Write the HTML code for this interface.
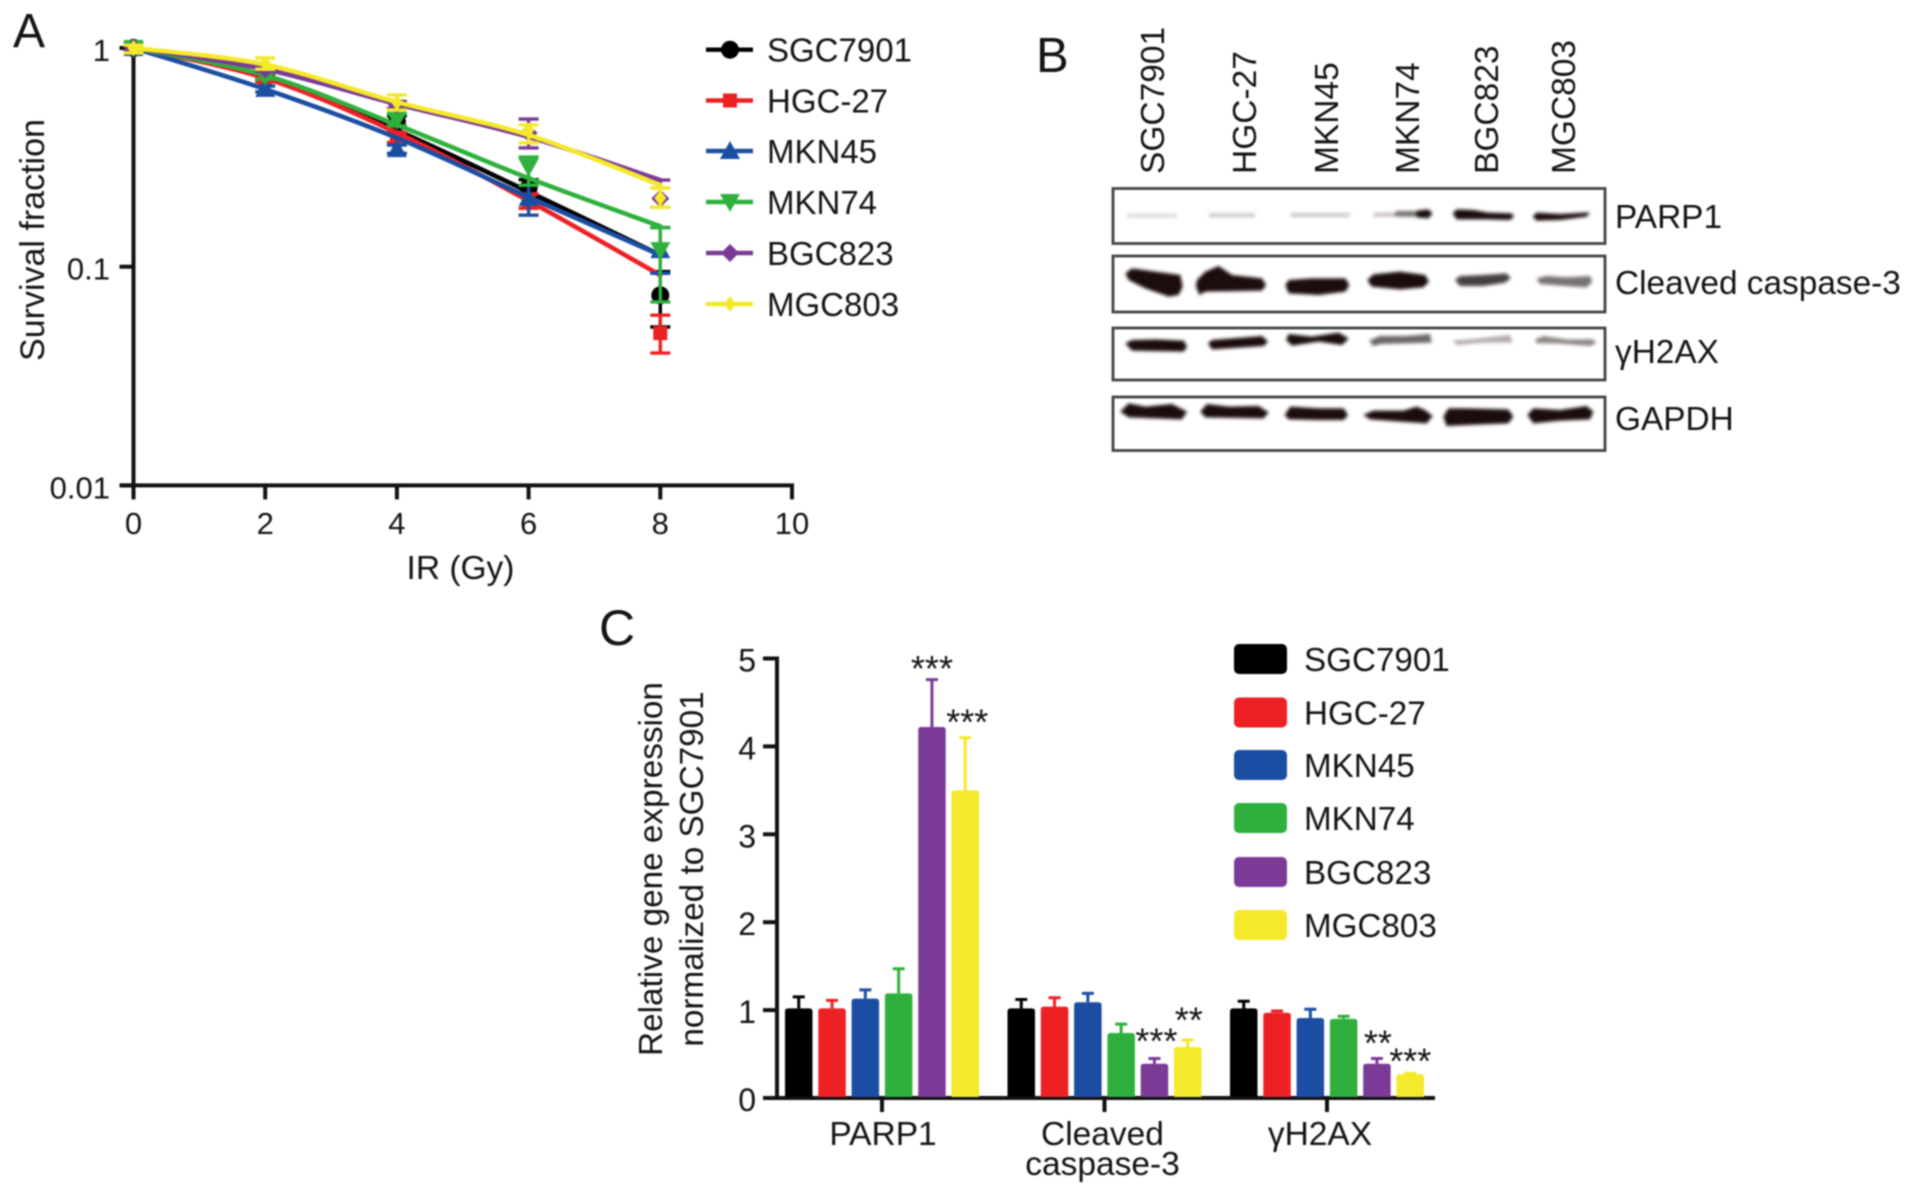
<!DOCTYPE html>
<html lang="en">
<head>
<meta charset="utf-8">
<title>Survival fraction and protein expression in gastric cancer cell lines</title>
<style>
  html, body { margin: 0; padding: 0; background: #fff; }
  body { width: 1913px; height: 1195px; overflow: hidden; }
  #figure { display: block; filter: blur(0.75px); }
  text { font-family: "Liberation Sans", "DejaVu Sans", sans-serif; fill: #151314; }
</style>
</head>
<body>
<svg id="figure" xmlns="http://www.w3.org/2000/svg" width="1913" height="1195" viewBox="0 0 1913 1195">
  <defs>
    <filter id="bandBlur" x="-10%" y="-10%" width="120%" height="120%"><feGaussianBlur stdDeviation="1.5"/></filter>
  </defs>
  <rect width="1913" height="1195" fill="#fff"/>

  <text x="13" y="47" font-size="48">A</text>
  <text x="1036" y="72" font-size="49">B</text>
  <text x="599" y="645" font-size="50">C</text>

  <g id="panelA"></g>

  <g id="panelB">
    <g font-size="33.5">
      <text transform="translate(1164,174) rotate(-90)">SGC7901</text>
      <text transform="translate(1256,174) rotate(-90)">HGC-27</text>
      <text transform="translate(1338,174) rotate(-90)">MKN45</text>
      <text transform="translate(1419,174) rotate(-90)">MKN74</text>
      <text transform="translate(1498,174) rotate(-90)">BGC823</text>
      <text transform="translate(1575,174) rotate(-90)">MGC803</text>
    </g>
    <g fill="#fff" stroke="#444" stroke-width="2.8">
      <rect x="1113" y="188.5" width="492" height="55"/>
      <rect x="1113" y="256" width="492" height="56"/>
      <rect x="1113" y="328" width="492" height="52"/>
      <rect x="1113" y="397" width="492" height="53.5"/>
    </g>
    <g filter="url(#bandBlur)" fill="#1a0b0b">
      <g transform="translate(1112,180) scale(0.33333)">
        <g>
          <rect x="45" y="101" width="150" height="12" rx="6" opacity=".14"/>
          <rect x="290" y="100" width="140" height="12" rx="6" opacity=".22"/>
          <rect x="535" y="99" width="180" height="12" rx="6" opacity=".22"/>
        </g>
        <g>
          <polygon points="40,280 60,265 130,275 205,285 212,320 200,345 170,350 100,325 50,300"/>
          <polygon points="255,300 280,275 320,258 360,285 450,295 462,315 450,332 280,335 262,345 252,320"/>
          <polygon points="520,315 530,300 600,295 700,295 712,315 700,335 620,345 530,340"/>
        </g>
        <g>
          <polygon points="40,490 60,480 130,478 215,482 225,500 215,515 60,512"/>
          <polygon points="288,490 300,480 450,468 468,485 455,498 300,508"/>
          <polygon points="522,480 530,462 600,470 680,458 710,475 690,495 620,485 540,497"/>
        </g>
        <g>
          <polygon points="25,695 50,670 100,680 180,672 225,695 210,718 130,715 50,712"/>
          <polygon points="265,695 285,672 350,680 440,678 470,697 455,715 280,712"/>
          <polygon points="518,705 535,680 620,685 695,685 708,705 695,720 620,720 530,718"/>
        </g>
      </g>
      <g transform="translate(1360,180) scale(0.33333)">
        <g>
          <rect x="40" y="98" width="70" height="12" rx="6" opacity=".25"/>
          <rect x="105" y="93" width="70" height="17" rx="8" opacity=".6"/>
          <polygon points="170,92 205,88 218,100 205,115 170,112"/>
          <polygon points="278,100 290,88 340,90 385,98 455,100 462,110 450,120 380,118 290,118"/>
          <polygon points="518,110 530,98 600,102 690,97 680,110 600,120 530,122"/>
        </g>
        <g>
          <polygon points="22,300 40,283 120,275 195,285 207,305 190,322 120,328 35,320"/>
          <polygon points="285,300 300,288 370,285 440,280 452,295 435,308 370,318 300,318" opacity=".8"/>
          <polygon points="530,295 560,288 620,292 690,288 697,305 680,322 620,318 540,312" opacity=".6"/>
        </g>
        <g>
          <polygon points="28,482 60,468 140,468 210,462 215,488 130,490 60,492 40,498" opacity=".65"/>
          <polygon points="278,482 330,478 450,465 458,488 370,488 290,495" opacity=".33"/>
          <polygon points="525,478 550,468 620,478 700,478 708,490 690,498 590,490 530,490" opacity=".48"/>
        </g>
        <g>
          <polygon points="10,705 40,692 130,692 170,680 195,690 218,708 200,730 120,725 30,718"/>
          <polygon points="250,710 265,685 320,685 445,688 460,710 445,730 320,735 260,738"/>
          <polygon points="502,705 520,685 600,690 680,678 700,695 690,718 600,722 520,730"/>
        </g>
      </g>
    </g>
    <g font-size="33.4">
      <text x="1615" y="228">PARP1</text>
      <text x="1615" y="294">Cleaved caspase-3</text>
      <text x="1615" y="363">γH2AX</text>
      <text x="1615" y="430">GAPDH</text>
    </g>
  </g>

  <g id="panelC"></g>
</svg>

<script>
const NS = 'http://www.w3.org/2000/svg';

/* Shared */
const cellLines = ['SGC7901', 'HGC-27', 'MKN45', 'MKN74', 'BGC823', 'MGC803'];
const lineColors = ['#000000', '#ed2024', '#1b4ea2', '#2fb03d', '#7b3a96', '#f4e92a'];

/* Panel A: survival data */
const doses = [0, 2, 4, 6, 8];
const doseTicks = [0, 2, 4, 6, 8, 10];
const survivalTicks = [1, 0.1, 0.01];
const survivalTickLabels = ['1', '0.1', '0.01'];

const sgc7901Fit = [1, 0.743, 0.420, 0.220, 0.113];
const hgc27Fit   = [1, 0.728, 0.410, 0.200, 0.0914];
const mkn45Fit   = [1, 0.648, 0.388, 0.208, 0.113];
const mkn74Fit   = [1, 0.751, 0.445, 0.254, 0.153];
const bgc823Fit  = [1, 0.800, 0.554, 0.392, 0.249];
const mgc803Fit  = [1, 0.840, 0.566, 0.400, 0.236];

const sgc7901Mean = [1, 0.74, 0.46, 0.229, 0.074];
const hgc27Mean   = [1, 0.72, 0.39, 0.20, 0.0497];
const mkn45Mean   = [1, 0.65, 0.345, 0.206, 0.119];
const mkn74Mean   = [1, 0.745, 0.469, 0.286, 0.119];
const bgc823Mean  = [1, 0.80, 0.55, 0.409, 0.205];
const mgc803Mean  = [1, 0.85, 0.565, 0.422, 0.206];

const sgc7901Upper = [1.03, 0.76, 0.49, 0.25, 0.095];
const hgc27Upper   = [1.03, 0.74, 0.41, 0.215, 0.060];
const mkn45Upper   = [1.03, 0.67, 0.36, 0.236, 0.151];
const mkn74Upper   = [1.05, 0.77, 0.50, 0.317, 0.151];
const bgc823Upper  = [1.03, 0.82, 0.57, 0.473, 0.249];
const mgc803Upper  = [1.03, 0.90, 0.61, 0.445, 0.229];

const sgc7901Lower = [0.97, 0.72, 0.43, 0.21, 0.053];
const hgc27Lower   = [0.97, 0.70, 0.37, 0.185, 0.0403];
const mkn45Lower   = [0.97, 0.63, 0.33, 0.172, 0.0933];
const mkn74Lower   = [0.95, 0.72, 0.44, 0.236, 0.069];
const bgc823Lower  = [0.97, 0.78, 0.53, 0.349, 0.187];
const mgc803Lower  = [0.95, 0.80, 0.52, 0.368, 0.187];

const fitSeries = [sgc7901Fit, hgc27Fit, mkn45Fit, mkn74Fit, bgc823Fit, mgc803Fit];
const meanSeries = [sgc7901Mean, hgc27Mean, mkn45Mean, mkn74Mean, bgc823Mean, mgc803Mean];
const upperSeries = [sgc7901Upper, hgc27Upper, mkn45Upper, mkn74Upper, bgc823Upper, mgc803Upper];
const lowerSeries = [sgc7901Lower, hgc27Lower, mkn45Lower, mkn74Lower, bgc823Lower, mgc803Lower];

/* Panel C: expression data */
const targets = ['PARP1', 'Cleaved caspase-3', 'γH2AX'];
const expressionTicks = [0, 1, 2, 3, 4, 5];
const sgc7901Expression = [1.02, 1.02, 1.02];
const hgc27Expression   = [1.02, 1.04, 0.97];
const mkn45Expression   = [1.13, 1.09, 0.91];
const mkn74Expression   = [1.19, 0.74, 0.90];
const bgc823Expression  = [4.22, 0.39, 0.39];
const mgc803Expression  = [3.5, 0.58, 0.27];
const sgc7901ExpressionErr = [0.13, 0.10, 0.08];
const hgc27ExpressionErr   = [0.09, 0.10, 0.02];
const mkn45ExpressionErr   = [0.10, 0.10, 0.10];
const mkn74ExpressionErr   = [0.28, 0.10, 0.03];
const bgc823ExpressionErr  = [0.54, 0.06, 0.06];
const mgc803ExpressionErr  = [0.6, 0.08, 0.01];
const significance = [
  ['', '', '', '', '***', '***'],
  ['', '', '', '', '***', '**'],
  ['', '', '', '', '**', '***']
];
const expressionSeries = [sgc7901Expression, hgc27Expression, mkn45Expression, mkn74Expression, bgc823Expression, mgc803Expression];
const expressionErrSeries = [sgc7901ExpressionErr, hgc27ExpressionErr, mkn45ExpressionErr, mkn74ExpressionErr, bgc823ExpressionErr, mgc803ExpressionErr];

/* Axis functions */
const doseX = d => 133.5 + d * 65.85;
const survivalY = v => 48 - Math.log10(v) * 218.7;
const expressionY = v => 1098 - v * 87.9;

function make(tag, attrs, parent, content) {
  const el = document.createElementNS(NS, tag);
  for (const k in attrs) el.setAttribute(k, attrs[k]);
  if (content !== undefined) el.textContent = content;
  parent.appendChild(el);
  return el;
}

function smoothPath(points) {
  let d = 'M' + points[0][0] + ' ' + points[0][1];
  for (let i = 0; i < points.length - 1; i++) {
    const p0 = points[Math.max(i - 1, 0)], p1 = points[i], p2 = points[i + 1], p3 = points[Math.min(i + 2, points.length - 1)];
    d += ' C' + (p1[0] + (p2[0] - p0[0]) / 6) + ' ' + (p1[1] + (p2[1] - p0[1]) / 6) + ' ' +
         (p2[0] - (p3[0] - p1[0]) / 6) + ' ' + (p2[1] - (p3[1] - p1[1]) / 6) + ' ' + p2[0] + ' ' + p2[1];
  }
  return d;
}

function markerShape(parent, kind, x, y, color) {
  if (kind === 0) return make('circle', { cx: x, cy: y, r: 9, fill: color }, parent);
  if (kind === 1) return make('rect', { x: x - 7, y: y - 7, width: 14, height: 14, fill: color }, parent);
  const pts = {
    2: [[0, -10], [10, 8], [-10, 8]],
    3: [[-10, -8], [10, -8], [0, 10]],
    4: [[0, -9], [9, 0], [0, 9], [-9, 0]],
    5: [[0, -8], [6, 0], [0, 8], [-6, 0]]
  }[kind];
  return make('polygon', { points: pts.map(p => (x + p[0]) + ',' + (y + p[1])).join(' '), fill: color }, parent);
}

/* ---------- Panel A ---------- */
(function () {
  const root = document.getElementById('panelA');
  const ink = '#111';

  const yAxis = make('line', { x1: doseX(0), x2: doseX(0), y1: survivalY(1), y2: survivalY(0.01) + 2, stroke: ink, 'stroke-width': 4 }, root);
  
  
  const xAxis = make('line', { x1: doseX(0) - 14, x2: doseX(10) + 2, y1: survivalY(0.01), y2: survivalY(0.01), stroke: ink, 'stroke-width': 4 }, root);
  
  

  survivalTicks.forEach((v, i) => {
    const tick = make('line', { x1: doseX(0) - 14, x2: doseX(0), y1: survivalY(v), y2: survivalY(v), stroke: ink, 'stroke-width': 4 }, root);
    
    
    const label = make('text', { x: 110, y: survivalY(v) + 13, 'font-size': 31, 'text-anchor': 'end' }, root, survivalTickLabels[i]);
    
    
  });
  doseTicks.forEach(d => {
    const tick = make('line', { x1: doseX(d), x2: doseX(d), y1: survivalY(0.01), y2: survivalY(0.01) + 14, stroke: ink, 'stroke-width': 4 }, root);
    
    
    const label = make('text', { x: doseX(d), y: 534, 'font-size': 31, 'text-anchor': 'middle' }, root, String(d));
    
    
  });

  const xTitle = make('text', { x: 460.5, y: 579, 'font-size': 33.5, 'text-anchor': 'middle' }, root, 'IR (Gy)');
  
  
  const yTitle = make('text', { transform: 'translate(44,240) rotate(-90)', 'font-size': 34, 'text-anchor': 'middle' }, root, 'Survival fraction');
  
  

  fitSeries.forEach((fit, s) => {
    const g = make('g', {}, root);
    
    
    const color = lineColors[s];
    doses.forEach((d, i) => {
      const x = doseX(d);
      const err = make('path', {
        d: 'M' + x + ' ' + survivalY(upperSeries[s][i]) + ' V' + survivalY(lowerSeries[s][i]) +
           ' M' + (x - 10) + ' ' + survivalY(upperSeries[s][i]) + ' h20' +
           ' M' + (x - 10) + ' ' + survivalY(lowerSeries[s][i]) + ' h20',
        stroke: color, 'stroke-width': 3.4, fill: 'none'
      }, g);
      
      
      const mark = markerShape(g, s, x, survivalY(meanSeries[s][i]), color);
      
      
    });
    const curve = make('path', {
      d: smoothPath(doses.map((d, i) => [doseX(d), survivalY(fit[i])])),
      stroke: color, 'stroke-width': 4.6, fill: 'none', 'stroke-linecap': 'round'
    }, g);
    
    
  });

  const legendRows = [49.7, 100.5, 151, 202, 253, 304];
  cellLines.forEach((name, s) => {
    const g = make('g', {}, root);
    
    
    const y = legendRows[s];
    make('line', { x1: 706, x2: 753, y1: y, y2: y, stroke: lineColors[s], 'stroke-width': 4.4 }, g);
    markerShape(g, s, 730, y, lineColors[s]);
    make('text', { x: 767, y: y + 12, 'font-size': 33 }, g, name);
  });
})();

/* ---------- Panel C ---------- */
(function () {
  const root = document.getElementById('panelC');
  const ink = '#111';
  const groupStart = i => 785 + i * 222.5;
  const barPitch = 33.3;
  const barWidth = 27.5;
  const axisX = 777;
  const labelShift = [2, -1, -6];
  const starLift = [[0, 0, 0, 0, 1.5, -3], [0, 0, 0, 0, -5, -7.5], [0, 0, 0, 0, -3, 0]];
  const starShift = [[0, 0, 0, 0, 0, 2], [0, 0, 0, 0, 2, 1], [0, 0, 0, 0, 1, 0]];

  const yAxis = make('line', { x1: axisX, x2: axisX, y1: expressionY(5) - 2, y2: expressionY(0), stroke: ink, 'stroke-width': 4 }, root);
  
  
  const xAxis = make('line', { x1: axisX - 14, x2: 1435, y1: expressionY(0), y2: expressionY(0), stroke: ink, 'stroke-width': 4 }, root);
  
  

  expressionTicks.forEach(v => {
    const tick = make('line', { x1: axisX - 14, x2: axisX, y1: expressionY(v), y2: expressionY(v), stroke: ink, 'stroke-width': 4 }, root);
    
    
    const label = make('text', { x: 756, y: expressionY(v) + 13, 'font-size': 32, 'text-anchor': 'end' }, root, String(v));
    
    
  });

  targets.forEach((target, g) => {
    const center = groupStart(g) + 2.5 * barPitch + barWidth / 2;
    const tick = make('line', { x1: center, x2: center, y1: expressionY(0), y2: expressionY(0) + 14, stroke: ink, 'stroke-width': 4 }, root);
    
    
    const lines = target === 'Cleaved caspase-3' ? ['Cleaved', 'caspase-3'] : [target];
    lines.forEach((line, n) => {
      const label = make('text', { x: center - 1 + labelShift[g], y: 1145 + n * 30, 'font-size': 33.5, 'text-anchor': 'middle' }, root, line);
      
      
    });

    cellLines.forEach((name, s) => {
      const x = groupStart(g) + s * barPitch;
      const value = expressionSeries[s][g];
      const err = expressionErrSeries[s][g];
      const color = lineColors[s];
      const top = expressionY(value);
      const errTop = expressionY(value + err);
      const cx = x + barWidth / 2;
      const bar = make('path', {
        d: 'M' + x + ' ' + (expressionY(0) - 1) + ' V' + (top + 3) + ' Q' + x + ' ' + top + ' ' + (x + 3) + ' ' + top +
           ' H' + (x + barWidth - 3) + ' Q' + (x + barWidth) + ' ' + top + ' ' + (x + barWidth) + ' ' + (top + 3) +
           ' V' + (expressionY(0) - 1) + ' Z',
        fill: color
      }, root);
      
      
      const whisker = make('path', {
        d: 'M' + cx + ' ' + top + ' V' + errTop + ' M' + (cx - 6) + ' ' + errTop + ' h12',
        stroke: color, 'stroke-width': 3, fill: 'none'
      }, root);
      
      
      const mark = significance[g][s];
      if (mark) {
        const star = make('text', { x: cx + starShift[g][s], y: errTop + starLift[g][s], 'font-size': 36, 'text-anchor': 'middle' }, root, mark);
        
        
      }
    });
  });

  const yTitle1 = make('text', { transform: 'translate(662,869) rotate(-90)', 'font-size': 33.3, 'text-anchor': 'middle' }, root, 'Relative gene expression');
  
  
  const yTitle2 = make('text', { transform: 'translate(703,869) rotate(-90)', 'font-size': 33.3, 'text-anchor': 'middle' }, root, 'normalized to SGC7901');
  
  

  const legendTops = [644, 697.5, 750, 803, 857, 910];
  cellLines.forEach((name, s) => {
    const g = make('g', {}, root);
    
    
    make('rect', { x: 1234, y: legendTops[s], width: 53, height: 30, rx: 5, fill: lineColors[s] }, g);
    make('text', { x: 1304, y: legendTops[s] + 27, 'font-size': 33.2 }, g, name);
  });
})();
</script>
</body>
</html>
